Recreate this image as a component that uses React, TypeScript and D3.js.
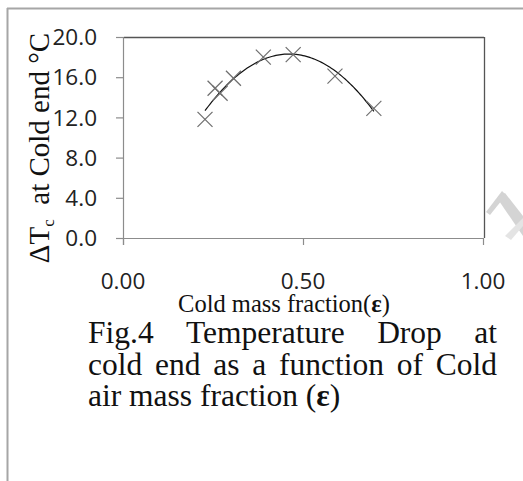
import React, { useMemo } from "react";
import * as d3 from "d3";

const coldFraction = [0.225, 0.253, 0.267, 0.304, 0.387, 0.47, 0.586, 0.694];
const tempDrop = [11.8, 14.9, 14.4, 15.9, 18.0, 18.25, 16.1, 12.9];
const yTicks = [0, 4, 8, 12, 16, 20];
const xTicks = [0, 0.5, 1.0];
const xTitle = "Cold mass fraction(";
const yTitleParts = ["\u0394T", "c", "  at Cold end \u00B0C"];
const captionLine1 = ["Fig.4", "Temperature", "Drop", "at"];
const captionLine2 = ["cold", "end", "as", "a", "function", "of", "Cold"];
const captionLine3 = "air mass fraction (";

const W = 523;
const H = 481;
const L = 124, R = 484, T = 37, B = 238;
const CAP_SIZE = 31.5;
const CAP_FONT = `${CAP_SIZE}px 'Liberation Serif'`;

function measure(text: string, font: string): number {
  const c = document.createElement("canvas");
  const ctx = c.getContext("2d")!;
  ctx.font = font;
  return ctx.measureText(text).width;
}

function justify(words: string[], x0: number, x1: number, font: string) {
  const widths = words.map((w) => measure(w, font));
  const total = widths.reduce((a, b) => a + b, 0);
  const gap = (x1 - x0 - total) / (words.length - 1);
  const xs: number[] = [];
  let x = x0;
  widths.forEach((w) => {
    xs.push(x);
    x += w + gap;
  });
  return xs;
}

function quadFit(xs: number[], ys: number[]) {
  // least squares quadratic (trendline)
  let s0 = 0, s1 = 0, s2 = 0, s3 = 0, s4 = 0, t0 = 0, t1 = 0, t2 = 0;
  xs.forEach((x, i) => {
    const y = ys[i];
    s0 += 1; s1 += x; s2 += x * x; s3 += x ** 3; s4 += x ** 4;
    t0 += y; t1 += x * y; t2 += x * x * y;
  });
  const M = [
    [s4, s3, s2, t2],
    [s3, s2, s1, t1],
    [s2, s1, s0, t0],
  ];
  for (let i = 0; i < 3; i++) {
    for (let k = i + 1; k < 3; k++) {
      const f = M[k][i] / M[i][i];
      for (let j = i; j < 4; j++) M[k][j] -= f * M[i][j];
    }
  }
  const c = [0, 0, 0];
  for (let i = 2; i >= 0; i--) {
    let s = M[i][3];
    for (let j = i + 1; j < 3; j++) s -= M[i][j] * c[j];
    c[i] = s / M[i][i];
  }
  return (x: number) => c[0] * x * x + c[1] * x + c[2];
}

export default function App() {
  const x = d3.scaleLinear().domain([0, 1]).range([L, R]);
  const y = d3.scaleLinear().domain([0, 20]).range([B, T]);
  const f = quadFit(coldFraction, tempDrop);
  const xmin = d3.min(coldFraction)!;
  const xmax = d3.max(coldFraction)!;
  const curve = d3.range(0, 101).map((i) => {
    const xv = xmin + ((xmax - xmin) * i) / 100;
    return [xv, f(xv)] as [number, number];
  });
  const line = d3
    .line<[number, number]>()
    .x((d) => x(d[0]))
    .y((d) => y(d[1]));

  const l1 = useMemo(() => justify(captionLine1, 88, 497, CAP_FONT), []);
  const l2 = useMemo(() => justify(captionLine2, 88, 497, CAP_FONT), []);
  const m = 7.5;

  return (
    <svg
      width={W}
      height={H}
      style={{ position: "absolute", left: 0, top: 0, background: "#fff" }}
    >
      <rect x={0} y={0} width={W} height={H} fill="#fff" />
      {/* outer frame */}
      <line x1={7} x2={W} y1={8.5} y2={8.5} stroke="#a6a6a6" strokeWidth={2} />
      <line x1={7.5} x2={7.5} y1={8} y2={H} stroke="#a6a6a6" strokeWidth={2} />

      {/* watermark fragment */}
      <g fill="#d4d4d4">
        <polygon points="486,212 490,215 506,195 502,191" />
        <polygon points="497,198 505,193 523,216 523,236" />
        <polygon points="505,236 511,240 523,226 523,218" fill="#e4e4e4" />
      </g>

      {/* plot border */}
      <line x1={L} x2={R} y1={T + 0.5} y2={T + 0.5} stroke="#555" strokeWidth={1.3} />
      <line x1={R + 0.5} x2={R + 0.5} y1={T} y2={B} stroke="#555" strokeWidth={1.3} />
      <line x1={L} x2={R} y1={B + 0.5} y2={B + 0.5} stroke="#8c8c8c" strokeWidth={1.2} />
      <line x1={L - 0.5} x2={L - 0.5} y1={T} y2={B + 7} stroke="#8c8c8c" strokeWidth={1.2} />

      {/* y ticks */}
      {yTicks.map((t) => (
        <g key={"y" + t}>
          <line x1={L - 8} x2={L} y1={y(t) + 0.5} y2={y(t) + 0.5} stroke="#8c8c8c" strokeWidth={1.2} />
          <text
            x={97}
            y={y(t)}
            dy="0.36em"
            textAnchor="end"
            fontFamily="'Open Sans'"
            fontSize={22.5}
            fill="#222"
          >
            {t.toFixed(1)}
          </text>
        </g>
      ))}
      {/* x ticks */}
      {xTicks.map((t) => (
        <g key={"x" + t}>
          <line x1={x(t) - 0.5} x2={x(t) - 0.5} y1={B} y2={B + 7} stroke="#8c8c8c" strokeWidth={1.2} />
          <text
            x={x(t) - 1}
            y={289}
            textAnchor="middle"
            fontFamily="'Open Sans'"
            fontSize={22.5}
            fill="#222"
          >
            {t.toFixed(2)}
          </text>
        </g>
      ))}

      {/* trendline */}
      <path d={line(curve)!} fill="none" stroke="#111" strokeWidth={1.2} />

      {/* markers */}
      {coldFraction.map((cx, i) => {
        const px = x(cx);
        const py = y(tempDrop[i]);
        return (
          <g key={"m" + i} stroke="#6e6e6e" strokeWidth={1.2}>
            <line x1={px - m} y1={py - m} x2={px + m} y2={py + m} />
            <line x1={px - m} y1={py + m} x2={px + m} y2={py - m} />
          </g>
        );
      })}

      {/* y title */}
      <text
        transform="translate(49,148) rotate(-90)"
        textAnchor="middle"
        fontFamily="'Liberation Serif'"
        fontSize={29}
        fill="#111"
      >
        {yTitleParts[0]}
        <tspan fontSize={17} dy={5}>{yTitleParts[1]}</tspan>
        <tspan dy={-5} style={{ whiteSpace: "pre" }}>{yTitleParts[2]}</tspan>
      </text>

      {/* x title */}
      <text
        x={284}
        y={312}
        textAnchor="middle"
        fontFamily="'Liberation Serif'"
        fontSize={24.5}
        fill="#111"
      >
        {xTitle}
        <tspan fontWeight="bold">{"\u03B5"}</tspan>)
      </text>

      {/* caption */}
      <g fontFamily="'Liberation Serif'" fontSize={CAP_SIZE} fill="#111">
        {captionLine1.map((w, i) => (
          <text key={"c1" + i} x={l1[i]} y={343}>{w}</text>
        ))}
        {captionLine2.map((w, i) => (
          <text key={"c2" + i} x={l2[i]} y={374.5}>{w}</text>
        ))}
        <text x={88} y={406}>
          {captionLine3}
          <tspan fontWeight="bold">{"\u03B5"}</tspan>)
        </text>
      </g>
    </svg>
  );
}
